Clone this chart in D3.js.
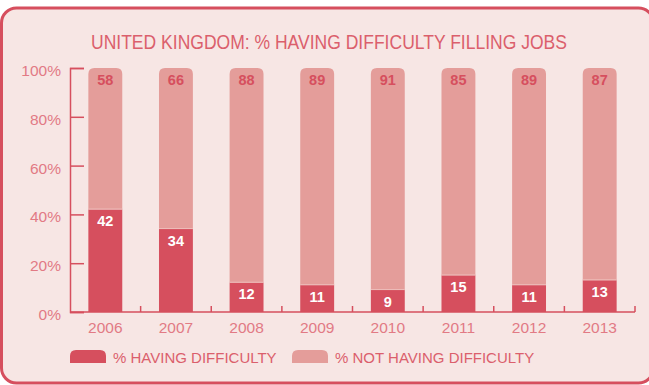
<!DOCTYPE html>
<html>
<head>
<meta charset="utf-8">
<script src="https://cdn.jsdelivr.net/npm/d3@7/dist/d3.min.js"></script>
<style>
  html, body { margin: 0; padding: 0; background: #ffffff; }
  svg { display: block; }
</style>
</head>
<body>
<svg id="chart" width="649" height="385"></svg>
<script>
// Survey results, UK employers
const years = ["2006", "2007", "2008", "2009", "2010", "2011", "2012", "2013"];
const havingDifficulty = [42, 34, 12, 11, 9, 15, 11, 13];
const notHavingDifficulty = [58, 66, 88, 89, 91, 85, 89, 87];
const yTicks = [0, 20, 40, 60, 80, 100];
const seriesNames = ["% HAVING DIFFICULTY", "% NOT HAVING DIFFICULTY"];

const dark = "#d64f5e";
const light = "#e49d9a";
const bg = "#f7e6e4";
const textColor = "#db5f6c";
const tickColor = "#e27a84";
const font = "'Liberation Sans', Arial, Helvetica, sans-serif";

const svg = d3.select("#chart").style("font-family", font);

// card
svg.append("rect")
  .attr("x", 1.5).attr("y", 8)
  .attr("width", 652).attr("height", 375)
  .attr("rx", 15).attr("ry", 15)
  .attr("fill", bg)
  .attr("stroke", dark)
  .attr("stroke-width", 3);

// title
svg.append("text")
  .attr("x", 329).attr("y", 48.5)
  .attr("text-anchor", "middle")
  .attr("fill", textColor)
  .attr("font-size", 19.5)
  .attr("textLength", 476)
  .attr("lengthAdjust", "spacingAndGlyphs")
  .text("UNITED KINGDOM: % HAVING DIFFICULTY FILLING JOBS");

const plot = { left: 70, right: 635, top: 68, bottom: 312 };

const x = d3.scaleBand()
  .domain(years)
  .range([plot.left, plot.right])
  .paddingInner(0.52)
  .paddingOuter(0.26);

const y = d3.scaleLinear()
  .domain([0, 100])
  .range([plot.bottom, plot.top]);

const g = svg.append("g");

// stacked bars
const rows = years.map((yr, i) => ({ year: yr, having: havingDifficulty[i], not: notHavingDifficulty[i] }));
const stack = d3.stack().keys(["having", "not"])(rows);

const r = 6;
function roundedTop(x0, y0, w, h, rad) {
  return `M${x0},${y0 + h}V${y0 + rad}Q${x0},${y0} ${x0 + rad},${y0}H${x0 + w - rad}Q${x0 + w},${y0} ${x0 + w},${y0 + rad}V${y0 + h}Z`;
}

// "not having" segment on top with rounded corners
g.selectAll("path.not")
  .data(stack[1])
  .join("path")
  .attr("class", "not")
  .attr("fill", light)
  .attr("d", d => {
    const x0 = x(d.data.year), w = x.bandwidth();
    return roundedTop(x0, y(d[1]), w, y(d[0]) - y(d[1]), r);
  });

// "having" segment at the bottom
g.selectAll("rect.having")
  .data(stack[0])
  .join("rect")
  .attr("class", "having")
  .attr("fill", dark)
  .attr("x", d => x(d.data.year))
  .attr("width", x.bandwidth())
  .attr("y", d => y(d[1]))
  .attr("height", d => y(d[0]) - y(d[1]));

// thin highlight at the segment joint
g.selectAll("line.joint")
  .data(stack[0])
  .join("line")
  .attr("x1", d => x(d.data.year))
  .attr("x2", d => x(d.data.year) + x.bandwidth())
  .attr("y1", d => y(d[1]) - 0.5)
  .attr("y2", d => y(d[1]) - 0.5)
  .attr("stroke", "#edbcb9")
  .attr("stroke-width", 1);

// value labels
g.selectAll("text.having")
  .data(stack[0])
  .join("text")
  .attr("x", d => x(d.data.year) + x.bandwidth() / 2)
  .attr("y", d => y(d[1]) + 16.5)
  .attr("text-anchor", "middle")
  .attr("fill", "#ffffff")
  .attr("font-size", 14.5)
  .attr("font-weight", 700)
  .text(d => d.data.having);

g.selectAll("text.not")
  .data(stack[1])
  .join("text")
  .attr("x", d => x(d.data.year) + x.bandwidth() / 2)
  .attr("y", d => y(d[1]) + 17)
  .attr("text-anchor", "middle")
  .attr("fill", dark)
  .attr("font-size", 14.5)
  .attr("font-weight", 700)
  .text(d => d.data.not);

// y axis
const yAxis = d3.axisRight(y)
  .tickValues(yTicks)
  .tickSize(14)
  .tickFormat("");
const ya = svg.append("g")
  .attr("transform", `translate(${plot.left},0)`)
  .call(yAxis);
ya.select(".domain").attr("stroke", dark).attr("stroke-width", 1.5);
ya.selectAll(".tick line").attr("stroke", dark).attr("stroke-width", 1.5);

svg.append("g")
  .selectAll("text")
  .data(yTicks)
  .join("text")
  .attr("x", 61)
  .attr("y", d => y(d) + 8)
  .attr("text-anchor", "end")
  .attr("fill", tickColor)
  .attr("font-size", 15.5)
  .text(d => d + "%");

// x axis with separators between categories
const step = x.step();
const sepPositions = years.map(yr => x(yr) + x.bandwidth() / 2 + step / 2);
svg.append("line")
  .attr("x1", plot.left).attr("x2", plot.right)
  .attr("y1", plot.bottom).attr("y2", plot.bottom)
  .attr("stroke", dark).attr("stroke-width", 1.5);
svg.append("g")
  .selectAll("line")
  .data(sepPositions)
  .join("line")
  .attr("x1", d => d).attr("x2", d => d)
  .attr("y1", plot.bottom).attr("y2", plot.bottom - 6)
  .attr("stroke", dark).attr("stroke-width", 1.5);

const xAxis = d3.axisBottom(x).tickSize(0).tickPadding(0);
const xa = svg.append("g")
  .attr("transform", `translate(0,${plot.bottom})`)
  .call(xAxis);
xa.select(".domain").remove();
xa.selectAll(".tick text")
  .attr("y", 21)
  .attr("dy", 0)
  .attr("fill", tickColor)
  .attr("font-size", 15.5)
  .style("font-family", font);

// legend
const legend = svg.append("g");
const legendX = [70, 292];
const legendColors = [dark, light];
seriesNames.forEach((name, i) => {
  legend.append("path")
    .attr("fill", legendColors[i])
    .attr("d", roundedTop(legendX[i], 350, 36, 13, 6));
  legend.append("text")
    .attr("x", legendX[i] + 43)
    .attr("y", 363)
    .attr("fill", textColor)
    .attr("font-size", 15)
    .text(name);
});
</script>
</body>
</html>
